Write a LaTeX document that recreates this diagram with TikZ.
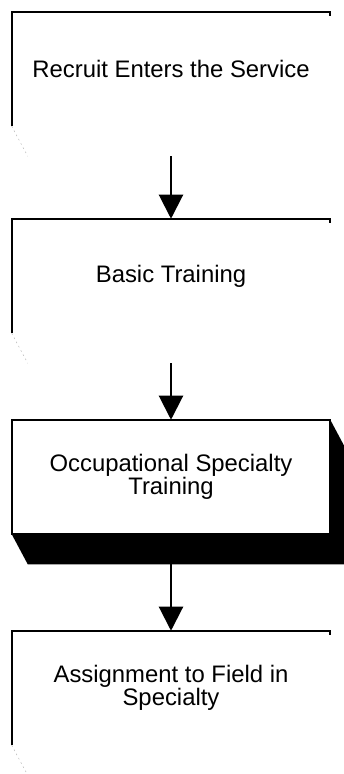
\documentclass[tikz,border=0pt]{standalone}
\usepackage{fontspec}
\setmainfont{Liberation Sans}
\usetikzlibrary{arrows.meta,calc}

\tikzset{
  stagebox/.style={minimum width=238.5pt,minimum height=85.5pt,inner sep=0pt,align=center,
    font=\fontsize{17.9pt}{16.5pt}\selectfont},
  edge/.style={line width=1.4pt},
  faint/.style={gray!55,line width=0.4pt,dash pattern=on 1.2pt off 2.4pt},
  flow/.style={line width=1.6pt,-{Triangle[length=18pt,width=18pt]}}
}

\begin{document}
\begin{tikzpicture}[x=0.75pt,y=-0.75pt]
  \useasboundingbox (0,0) rectangle (343,774);
  % the four stages
  \node[stagebox] (rec) at (171,69) {Recruit Enters the Service};
  \node[stagebox] (basic) at (171,276) {Basic Training};
  \node[stagebox] (occ) at (171,477) {Occupational Specialty\\Training};
  \node[stagebox] (assign) at (171,688) {Assignment to Field in\\Specialty};

  % open outlines, what is left of the boxes
  \foreach \b in {rec,basic,assign}{
    \draw[edge] ($(\b.north east)+(0,4)$) -- (\b.north east) -- (\b.north west) -- (\b.south west);
    \draw[faint] (\b.south west) -- ++(16,30);
  }

  % the one box with its shadow
  \fill (occ.south west) -- ++(16,30) -- ($(occ.south east)+(16,30)$)
    -- ($(occ.north east)+(16,30)$) -- (occ.north east) -- cycle;
  \draw[edge,fill=white] (occ.north west) rectangle (occ.south east);
  \node[stagebox] at (occ) {Occupational Specialty\\Training};

  % arrows
  \draw[flow] ($(rec.south)+(0,30)$) -- (basic.north);
  \draw[flow] ($(basic.south)+(0,30)$) -- (occ.north);
  \draw[flow] ($(occ.south)+(0,30)$) -- (assign.north);
\end{tikzpicture}
\end{document}
